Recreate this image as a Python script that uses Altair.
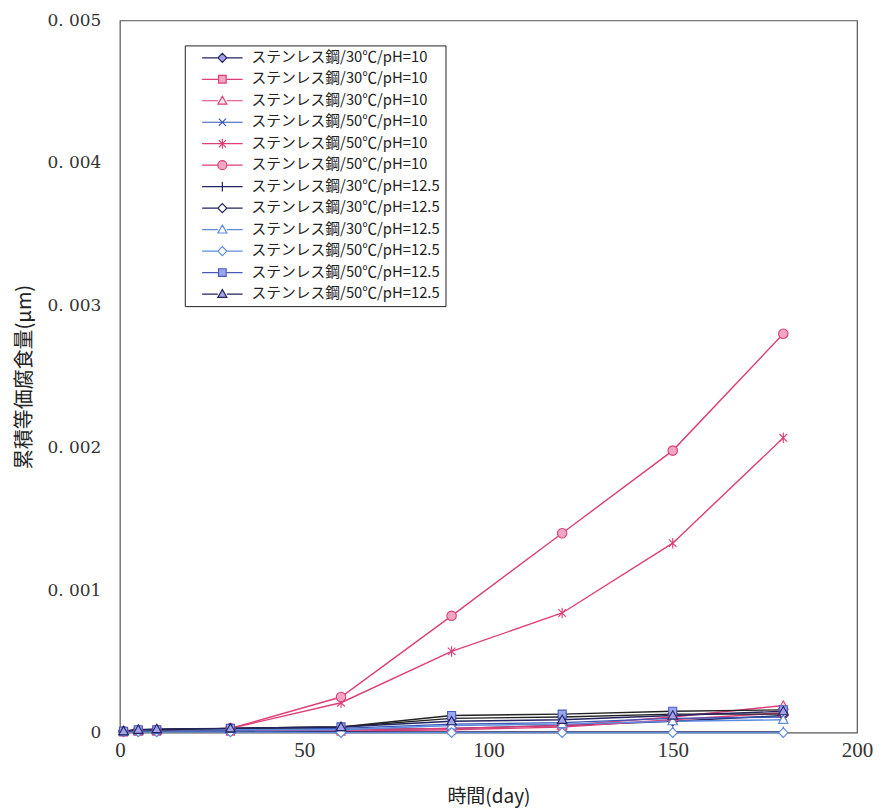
import altair as alt
import pandas as pd
import re

# ---- data ----
days = [1, 5, 10, 30, 60, 90, 120, 150, 180]

series_ids = ["s01", "s02", "s03", "s04", "s05", "s06",
              "s07", "s08", "s09", "s10", "s11", "s12"]
series_labels = [
    "ステンレス鋼/30℃/pH=10",
    "ステンレス鋼/30℃/pH=10",
    "ステンレス鋼/30℃/pH=10",
    "ステンレス鋼/50℃/pH=10",
    "ステンレス鋼/50℃/pH=10",
    "ステンレス鋼/50℃/pH=10",
    "ステンレス鋼/30℃/pH=12.5",
    "ステンレス鋼/30℃/pH=12.5",
    "ステンレス鋼/30℃/pH=12.5",
    "ステンレス鋼/50℃/pH=12.5",
    "ステンレス鋼/50℃/pH=12.5",
    "ステンレス鋼/50℃/pH=12.5",
]

s01 = [0.00001, 0.00001, 0.000015, 0.00002, 0.00002, 0.00003, 0.00005, 0.00008, 0.00012]
s02 = [0.000005, 0.00001, 0.00001, 0.00001, 0.00001, 0.00002, 0.00004, 0.00009, 0.00014]
s03 = [0.00001, 0.00001, 0.000015, 0.00002, 0.00002, 0.00003, 0.00005, 0.00011, 0.00019]
s04 = [0.00001, 0.000015, 0.00002, 0.00002, 0.00003, 0.00006, 0.00007, 0.0001, 0.00011]
s05 = [0.00001, 0.000015, 0.00002, 0.00003, 0.00021, 0.00057, 0.00084, 0.00133, 0.00207]
s06 = [0.00001, 0.000015, 0.00002, 0.00003, 0.00025, 0.00082, 0.0014, 0.00198, 0.0028]
s07 = [0.00001, 0.00001, 0.00001, 0.00001, 0.000005, 0.000005, 0.000005, 0.000005, 0.000005]
s08 = [0.00001, 0.00002, 0.00002, 0.00003, 0.00004, 0.0001, 0.00011, 0.00013, 0.00013]
s09 = [0.00001, 0.000015, 0.00002, 0.00002, 0.00002, 0.00005, 0.00006, 0.00008, 0.00009]
s10 = [0.000005, 0.000005, 0.000005, 0.000005, 0.0, 0.0, 0.0, 0.0, 0.0]
s11 = [0.00001, 0.00002, 0.00002, 0.00003, 0.00004, 0.00012, 0.00013, 0.00015, 0.00016]
s12 = [0.00001, 0.00002, 0.000025, 0.00003, 0.00004, 0.00008, 0.00009, 0.00012, 0.00015]
values = [s01, s02, s03, s04, s05, s06, s07, s08, s09, s10, s11, s12]

y_ticks = [0, 0.001, 0.002, 0.003, 0.004, 0.005]
x_ticks = [0, 50, 100, 150, 200]

# ---- styles ----
NAVY = "#23235e"
BLACK = "#222222"
PINK = "#dc3f78"
BLUE = "#3a56b8"
LBLUE = "#5b8ae0"
LAV = "#a3a3ea"
PFILL = "#f3a5c4"

line_colors = [NAVY, PINK, PINK, BLUE, PINK, PINK, NAVY, BLACK, LBLUE, LBLUE, BLACK, NAVY]
marker_strokes = [NAVY, PINK, PINK, BLUE, PINK, PINK, NAVY, NAVY, LBLUE, LBLUE, "#4a5ab8", NAVY]
marker_fills = [LAV, PFILL, "#fbe3ec", "white", "white", PFILL, "white", "white", "white", "white", "#9aa6ee", LAV]

DIAMOND = "M-1,0L0,-1L1,0L0,1Z"
SQUARE = "M-0.85,-0.85H0.85V0.85H-0.85Z"
TRI = "M0,-1L1,0.75H-1Z"
XMARK = "M-0.8,-0.8L0.8,0.8M-0.8,0.8L0.8,-0.8"
AST = "M-0.8,-0.8L0.8,0.8M-0.8,0.8L0.8,-0.8M0,-1.1V1.1"
CIRC = "circle"
BAR = "M0,-1.1V1.1"
shapes = [DIAMOND, SQUARE, TRI, XMARK, AST, CIRC, BAR, DIAMOND, TRI, DIAMOND, SQUARE, TRI]


def shifted(p, dx):
    toks = re.findall(r"[A-Za-z]|-?\d*\.?\d+", p)
    out = ""
    cmd = None
    ci = 0
    for t in toks:
        if t.isalpha():
            cmd = t
            ci = 0
            out += t
        else:
            v = float(t)
            if cmd in ("M", "L"):
                if ci % 2 == 0:
                    v += dx
                ci += 1
            elif cmd == "H":
                v += dx
            if out and not out[-1].isalpha():
                out += ","
            out += f"{v:g}"
    return out


SH = 1.1
CX = 4.5 + SH
legend_shapes = []
for shp in shapes:
    if shp == "circle":
        circ = f"M{CX-1:g},0A1,1 0 1,0 {CX+1:g},0A1,1 0 1,0 {CX-1:g},0Z"
        legend_shapes.append(f"M{SH:g},0H{CX-1:g}M{CX+1:g},0H{9+SH:g}" + circ)
    elif shp in (XMARK, AST, BAR):
        legend_shapes.append(f"M{SH:g},0H{9+SH:g}" + shifted(shp, CX))
    else:
        legend_shapes.append(f"M{SH:g},0H{CX-1:g}M{CX+1:g},0H{9+SH:g}" + shifted(shp, CX))

rows = []
for sid, vals in zip(series_ids, values):
    for d, v in zip(days, vals):
        rows.append({"sid": sid, "lid": sid, "day": d, "val": v})
df = pd.DataFrame(rows)

ids_js = "[" + ",".join(f"'{s}'" for s in series_ids) + "]"
labs_js = "[" + ",".join(f"'{s}'" for s in series_labels) + "]"
label_expr = f"{labs_js}[indexof({ids_js}, datum.value)]"

SERIF = "Liberation Serif"
WSERIF = "DejaVu Serif"
JP = "Noto Sans CJK JP"

x_enc = alt.X("day:Q", scale=alt.Scale(domain=[0, 200], nice=False),
              axis=alt.Axis(values=x_ticks, title="時間(day)", grid=False,
                            ticks=False, domain=False, labelFlush=False,
                            labelFont=SERIF, labelFontSize=21, labelColor="#333",
                            labelPadding=7,
                            titleFont=JP, titleFontSize=19, titleFontWeight="normal",
                            titleColor="#222", titlePadding=27))
y_enc = alt.Y("val:Q", scale=alt.Scale(domain=[0, 0.005], nice=False),
              axis=alt.Axis(values=y_ticks, title="累積等価腐食量(μm)", grid=False,
                            ticks=False, domain=False, labelFlush=False,
                            labelFont=WSERIF, labelFontSize=17, labelColor="#333",
                            labelPadding=19,
                            labelExpr="datum.value == 0 ? '0' : replace(format(datum.value, '.3f'), '0.', '0. ')",
                            titleFont=JP, titleFontSize=20, titleFontWeight="normal",
                            titleColor="#222", titlePadding=12))

base = alt.Chart(df)

lines = base.mark_line(strokeWidth=1.4).encode(
    x=x_enc, y=y_enc,
    stroke=alt.Stroke("sid:N", scale=alt.Scale(domain=series_ids, range=line_colors), legend=None),
    detail="sid:N",
)

points = base.mark_point(filled=True, size=90, strokeWidth=1.1, opacity=1).encode(
    x="day:Q", y="val:Q",
    shape=alt.Shape("sid:N", scale=alt.Scale(domain=series_ids, range=shapes), legend=None),
    stroke=alt.Stroke("sid:N", scale=alt.Scale(domain=series_ids, range=marker_strokes), legend=None),
    fill=alt.Fill("sid:N", scale=alt.Scale(domain=series_ids, range=marker_fills), legend=None),
)

leg = alt.Legend(title=None, orient="none", legendX=65, legendY=25,
                 strokeColor="#222", fillColor="white", padding=5,
                 labelFont=JP, labelFontSize=14.8, labelColor="#222",
                 labelExpr=label_expr, labelOffset=47, rowPadding=5.5,
                 symbolSize=81, symbolStrokeWidth=1.2, symbolOpacity=1,
                 labelLimit=400, cornerRadius=0)

legend_layer = base.transform_filter("datum.day < 0").mark_point(filled=True).encode(
    x="day:Q", y="val:Q",
    shape=alt.Shape("lid:N", scale=alt.Scale(domain=series_ids, range=legend_shapes), legend=leg),
    stroke=alt.Stroke("lid:N", scale=alt.Scale(domain=series_ids, range=marker_strokes), legend=leg),
    fill=alt.Fill("lid:N", scale=alt.Scale(domain=series_ids, range=marker_fills), legend=leg),
)

chart = alt.layer(lines, points, legend_layer).resolve_scale(
    stroke="independent", fill="independent", shape="independent"
).properties(
    width=738, height=713,
    background="white",
    autosize=alt.AutoSizeParams(type="none"),
    padding={"left": 112, "top": 12, "right": 20, "bottom": 79},
).configure_view(stroke="#555", strokeWidth=1.2)

chart.save("out.html", embed_options={"renderer": "svg", "actions": False})
